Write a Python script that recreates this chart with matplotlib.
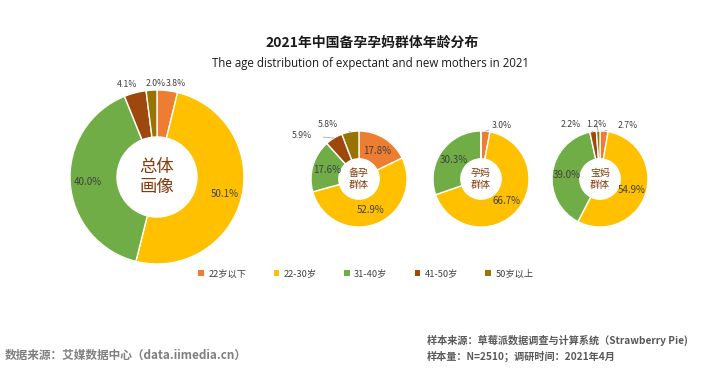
import matplotlib
matplotlib.use('Agg')
import matplotlib.pyplot as plt
from matplotlib.patches import Patch
import numpy as np

plt.rcParams['font.family'] = ['Noto Sans CJK SC', 'DejaVu Sans']

# data
AGE_GROUPS = ['22岁以下', '22-30岁', '31-40岁', '41-50岁', '50岁以上']
TOTAL = [3.8, 50.1, 40.0, 4.1, 2.0]
PREP = [17.8, 52.9, 17.6, 5.9, 5.8]
PREG = [3.0, 66.7, 30.3, 0.0, 0.0]
MOMS = [2.7, 54.9, 39.0, 2.2, 1.2]
CENTER_TEXT = ['总体\n画像', '备孕\n群体', '孕妈\n群体', '宝妈\n群体']

COLORS = ['#ED7D31', '#FFC000', '#70AD47', '#9E480E', '#997300']
CENTER_COLOR = '#843C0C'
LABEL_COLOR = '#404040'

W, H = 712, 368
fig = plt.figure(figsize=(W / 100, H / 100), dpi=100)
ax = fig.add_axes([0, 0, 1, 1])

# donut layout in pixels: (cx, cy from top, radius, hole fraction, pct radius, center font)
LAYOUT = [
    (157, 177, 87, 0.46, 0.80, 12.5),
    (359, 179, 48, 0.42, 0.70, 7.2),
    (481, 179, 48, 0.42, 0.70, 7.2),
    (600, 179, 48, 0.42, 0.70, 7.2),
]
# offsets (px, y up) of outside labels from wedge outer midpoint, and leader line flag
OUTSIDE = [
    {0: (8, 7, False), 3: (-8, 8, False), 4: (4, 7, False)},
    {3: (-32, 3, True), 4: (-22, 7, True)},
    {0: (16, 6, True)},
    {0: (24, 6, True), 3: (-22, 7, True), 4: (-2, 7, True)},
]

all_data = [TOTAL, PREP, PREG, MOMS]
for data, (cx, cyp, r, hole, pd, cfs), outs, ctext in zip(all_data, LAYOUT, OUTSIDE, CENTER_TEXT):
    cy = H - cyp
    wedges, _ = ax.pie(data, colors=COLORS, startangle=90, counterclock=False,
                       center=(cx, cy), radius=r, frame=True,
                       wedgeprops=dict(width=r * (1 - hole), edgecolor='white', linewidth=1))
    for i, (w, v) in enumerate(zip(wedges, data)):
        if v <= 0:
            continue
        ang = np.deg2rad((w.theta1 + w.theta2) / 2)
        if i in outs:
            dx, dy, line = outs[i]
            ox, oy = cx + r * np.cos(ang), cy + r * np.sin(ang)
            tx, ty = ox + dx, oy + dy
            ax.annotate('%.1f%%' % v, xy=(ox, oy), xytext=(tx, ty),
                        ha='center', va='center', fontsize=6.3, color=LABEL_COLOR,
                        arrowprops=dict(arrowstyle='-', color='#A6A6A6', lw=0.6,
                                        shrinkA=6, shrinkB=0) if line else None)
        else:
            ax.text(cx + pd * r * np.cos(ang), cy + pd * r * np.sin(ang), '%.1f%%' % v,
                    ha='center', va='center', fontsize=7, color=LABEL_COLOR)
    ax.text(cx, cy, ctext, ha='center', va='center', fontsize=cfs, fontweight='medium',
            color=CENTER_COLOR, linespacing=1.15)

ax.set_xlim(0, W)
ax.set_ylim(0, H)
ax.set_aspect('equal')
ax.axis('off')

# titles
fig.text(372 / W, 1 - 43 / H, '2021年中国备孕孕妈群体年龄分布', ha='center', va='center',
         fontsize=10, fontweight='bold', color='#1a1a1a')
fig.text(370 / W, 1 - 63 / H, 'The age distribution of expectant and new mothers in 2021',
         ha='center', va='center', fontsize=8.3, color='#1a1a1a', family=['Open Sans', 'DejaVu Sans'])

# legend
handles = [Patch(facecolor=c, edgecolor='none') for c in COLORS]
fig.legend(handles, AGE_GROUPS, loc='center', bbox_to_anchor=(366 / W, 1 - 274 / H), ncol=5,
           frameon=False, fontsize=6.7, handlelength=0.6, handleheight=0.6, handletextpad=0.5,
           columnspacing=2.9, labelcolor='#404040')

# footer
fig.text(5 / W, 1 - 355 / H, '数据来源：艾媒数据中心（data.iimedia.cn）', ha='left', va='center',
         fontsize=8.4, color='#7F7F7F', fontweight='bold')
fig.text(427 / W, 1 - 340 / H, '样本来源：草莓派数据调查与计算系统（Strawberry Pie)', ha='left',
         va='center', fontsize=7.3, color='#595959', fontweight='bold')
fig.text(427 / W, 1 - 356 / H, '样本量：N=2510；调研时间：2021年4月', ha='left', va='center',
         fontsize=7.3, color='#595959', fontweight='bold')

fig.savefig('out.png', dpi=100, facecolor='white')
